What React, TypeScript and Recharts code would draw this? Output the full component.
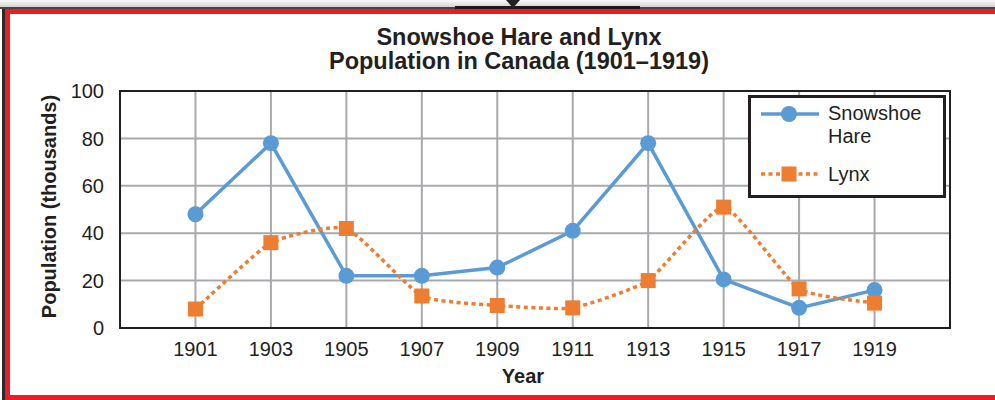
import { LineChart, Line, XAxis, YAxis, CartesianGrid, Legend, ReferenceArea } from "recharts"

const years = [1901, 1903, 1905, 1907, 1909, 1911, 1913, 1915, 1917, 1919]
const hare = [48, 78, 22, 22, 25.5, 41, 78, 20.5, 8.5, 16]
const lynx = [8, 36, 42, 13.5, 9.5, 8.5, 20, 51, 16.5, 10.5]
const yTicks = [0, 20, 40, 60, 80, 100]

const data = years.map((year, i) => ({ year, hare: hare[i], lynx: lynx[i] }))

const FONT = '"Liberation Sans", Arial, Helvetica, sans-serif'
const INK = "#231f20"
const BLUE = "#5b9bd5"
const ORANGE = "#ed7d31"
const GRID = "#a7a9ac"

// light cardinal smoothing, closer to the spreadsheet's "smoothed line" than monotone
function smoothCurve(context: any) {
  const k = 0.08
  let pts: [number, number][] = []
  return {
    areaStart() {},
    areaEnd() {},
    lineStart() {
      pts = []
    },
    point(x: number, y: number) {
      pts.push([+x, +y])
    },
    lineEnd() {
      if (!pts.length) return
      context.moveTo(pts[0][0], pts[0][1])
      for (let i = 0; i < pts.length - 1; i++) {
        const p0 = pts[Math.max(i - 1, 0)]
        const p1 = pts[i]
        const p2 = pts[i + 1]
        const p3 = pts[Math.min(i + 2, pts.length - 1)]
        context.bezierCurveTo(
          p1[0] + (p2[0] - p0[0]) * k,
          p1[1] + (p2[1] - p0[1]) * k,
          p2[0] - (p3[0] - p1[0]) * k,
          p2[1] - (p3[1] - p1[1]) * k,
          p2[0],
          p2[1]
        )
      }
    },
  }
}

function SquareDot(props: any) {
  const { cx, cy, index } = props
  if (cx == null || cy == null) return null
  return <rect key={`sq-${index}`} x={cx - 7.5} y={cy - 7.5} width={15} height={15} fill={ORANGE} />
}

function LegendBox() {
  return (
    <svg width={198} height={103} style={{ display: "block", fontFamily: FONT }}>
      <rect x={1.5} y={1.5} width={195} height={100} fill="#fff" stroke={INK} strokeWidth={3} />
      <line x1={13} y1={19} x2={71} y2={19} stroke={BLUE} strokeWidth={3.5} />
      <circle cx={41} cy={19} r={8} fill={BLUE} />
      <text x={80} y={25} fontSize={20} fill={INK}>Snowshoe</text>
      <text x={80} y={48} fontSize={20} fill={INK}>Hare</text>
      <line x1={13} y1={79} x2={71} y2={79} stroke={ORANGE} strokeWidth={3.5} strokeDasharray="4 3.5" />
      <rect x={33.5} y={71.5} width={15} height={15} fill={ORANGE} />
      <text x={80} y={86} fontSize={20} fill={INK}>Lynx</text>
    </svg>
  )
}

export default function App() {
  return (
    <div style={{ position: "absolute", left: 0, top: 0, width: 995, height: 400, background: "#fff", overflow: "hidden", fontFamily: FONT }}>
      {/* page edge and red frame */}
      <div style={{ position: "absolute", left: 0, top: 0, width: 995, height: 7, background: "linear-gradient(#fafafa, #d4d4d4)" }} />
      <div style={{ position: "absolute", left: 0, top: 7, width: 995, height: 2, background: "#444" }} />
      <div style={{ position: "absolute", left: 455, top: 6, width: 185, height: 3, background: "#1b1b1b" }} />
      <div style={{ position: "absolute", left: 506, top: 0, width: 0, height: 0, borderLeft: "7px solid transparent", borderRight: "7px solid transparent", borderTop: "8px solid #222" }} />
      <div style={{ position: "absolute", left: 2, top: 9, width: 3, height: 391, background: "#2a2a2a" }} />
      <div style={{ position: "absolute", left: 5, top: 9, width: 1000, height: 391, border: "5px solid #ed1c24", borderRight: "none", boxSizing: "border-box" }} />

      <div style={{ position: "absolute", left: 269, top: 25, width: 500, textAlign: "center", fontSize: 23.5, fontWeight: 700, lineHeight: "24px", color: INK }}>
        Snowshoe Hare and Lynx
        <br />
        Population in Canada (1901–1919)
      </div>

      <div style={{ position: "absolute", left: 0, top: 0 }}>
        <LineChart width={995} height={400} data={data} margin={{ top: 91, right: 45, left: 0, bottom: 0 }}>
          <CartesianGrid stroke={GRID} strokeWidth={2} />
          <XAxis
            dataKey="year"
            type="number"
            domain={[1899, 1921]}
            ticks={years}
            height={72}
            axisLine={false}
            tickLine={false}
            tickSize={6}
            tickMargin={8}
            tick={{ fill: INK, fontSize: 20, fontFamily: FONT }}
            label={{ value: "Year", position: "insideBottom", offset: 17, dx: -12, style: { fill: INK, fontSize: 20, fontWeight: 700, fontFamily: FONT } }}
          />
          <YAxis
            type="number"
            domain={[0, 100]}
            ticks={yTicks}
            width={120}
            axisLine={false}
            tickLine={false}
            tickSize={6}
            tickMargin={10}
            tick={{ fill: INK, fontSize: 20, fontFamily: FONT }}
            label={{ value: "Population (thousands)", angle: -90, position: "insideLeft", offset: 49, dy: -3, style: { textAnchor: "middle", fill: INK, fontSize: 20, fontWeight: 700, fontFamily: FONT } }}
          />
          <ReferenceArea x1={1899} x2={1921} y1={0} y2={100} fill="none" fillOpacity={0} stroke={INK} strokeWidth={2} />
          <Legend layout="horizontal" verticalAlign="middle" align="center" wrapperStyle={{ left: 748, top: 95, width: 198, height: 103 }} content={() => <LegendBox />} />
          <Line
            type="linear"
            dataKey="hare"
            stroke={BLUE}
            strokeWidth={3.5}
            dot={{ r: 8, fill: BLUE, stroke: "none" }}
            activeDot={false}
            isAnimationActive={false}
          />
          <Line
            type={smoothCurve as any}
            dataKey="lynx"
            stroke={ORANGE}
            strokeWidth={3.5}
            strokeDasharray="4 3.5"
            dot={<SquareDot />}
            activeDot={false}
            isAnimationActive={false}
          />
        </LineChart>
      </div>
    </div>
  )
}
